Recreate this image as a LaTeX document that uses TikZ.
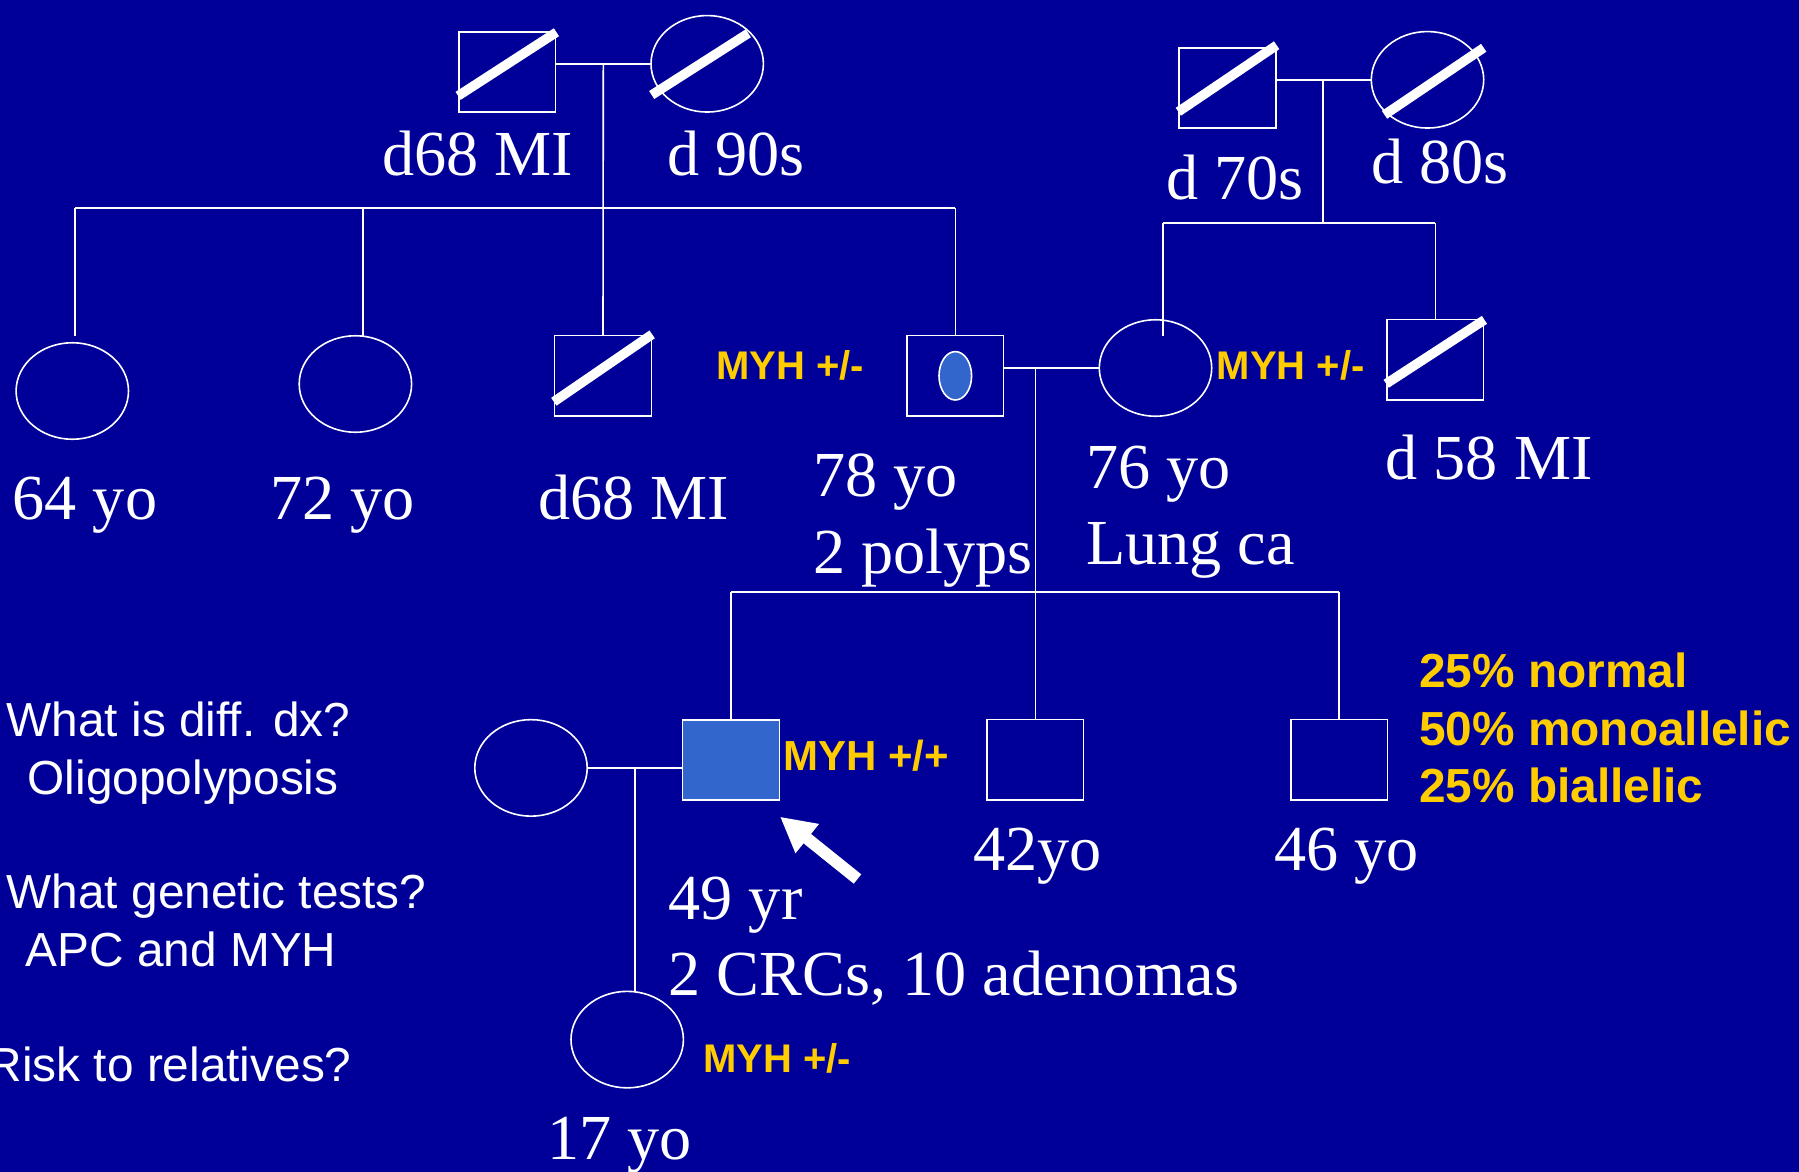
\documentclass[tikz,border=0pt]{standalone}
\usepackage{fontspec}
\setmainfont{Liberation Serif}
\setsansfont{Liberation Sans}
\usetikzlibrary{shapes.geometric,arrows.meta,calc}
\definecolor{bgblue}{RGB}{0,0,153}
\definecolor{fillblue}{RGB}{51,102,204}
\definecolor{labyellow}{RGB}{255,204,0}
\begin{document}
\begin{tikzpicture}[x=1pt,y=-1pt,
  male/.style={draw=white,line width=1.6pt,rectangle,minimum width=96.7pt,minimum height=80.3pt,inner sep=0pt},
  female/.style={draw=white,line width=1.6pt,ellipse,minimum width=112.4pt,minimum height=96.5pt,inner sep=0pt},
  rel/.style={draw=white,line width=1.6pt},
  dead/.style={draw=white,line width=9.5pt},
  serif/.style={text=white,inner sep=0pt,anchor=base west,font=\fontsize{64.2}{76}\selectfont},
  sans/.style={text=white,inner sep=0pt,anchor=base west,font=\sffamily\fontsize{47.8}{56}\selectfont},
  geno/.style={text=labyellow,inner sep=0pt,anchor=base west,font=\sffamily\bfseries\fontsize{40}{48}\selectfont},
  risk/.style={text=labyellow,inner sep=0pt,anchor=base west,font=\sffamily\bfseries\fontsize{47.8}{57}\selectfont}
]
\useasboundingbox (0,0) rectangle (1799,1172);
\fill[bgblue] (0,0) rectangle (1799,1172);

% ---- persons
\node[male] (gf1) at (507.3,71.9) {};
\node[female] (gm1) at (707.2,63.8) {};
\node[male] (gf2) at (1227.5,88) {};
\node[female] (gm2) at (1427.5,79.8) {};
\node[female] (sis64) at (72.3,391) {};
\node[female] (sis72) at (355.4,384) {};
\node[male] (bro68) at (603,375.8) {};
\node[male] (father) at (955.3,375.8) {};
\node[female] (mother) at (1155.5,368) {};
\node[male] (unc58) at (1435.3,359.8) {};
\node[female] (spouse) at (531,767.9) {};
\node[male,fill=fillblue] (proband) at (731,760) {};
\node[male] (bro42) at (1035.3,759.7) {};
\node[male] (bro46) at (1339.2,759.7) {};
\node[female] (daughter) at (627.2,1039.6) {};
\node[draw=white,line width=1.6pt,fill=fillblue,ellipse,minimum width=32.6pt,minimum height=48.4pt,inner sep=0pt] (carrier) at (father.center) {};

% ---- deceased slashes
\draw[dead] ([yshift=17pt]gf1.south west) -- ([yshift=-1.3pt]gf1.north east);
\draw[dead] ([yshift=17.2pt]gf2.south west) -- ([yshift=1.8pt]gf2.north east);
\draw[dead] ([yshift=15pt]bro68.south west) -- ([yshift=0.5pt]bro68.north east);
\draw[dead] ([yshift=17pt]unc58.south west) -- ([yshift=-1pt]unc58.north east);
\draw[dead] ([xshift=-55.5pt,yshift=-31.2pt]gm1.center) -- ([xshift=41.1pt,yshift=30.5pt]gm1.center);
\draw[dead] ([xshift=-43pt,yshift=-35pt]gm2.center) -- ([xshift=56.2pt,yshift=32pt]gm2.center);

% ---- connectors
\coordinate (d1) at (603.3,63.8);
\coordinate (s1L) at (75.2,207.7);
\coordinate (s1R) at (955.3,207.7);
\coordinate (s1b) at (362.8,207.7);
\coordinate (sis64in) at (75.2,335.6);
\coordinate (sis72in) at (362.8,335.6);
\draw[rel] (gf1.east|-gm1.west) -- (gm1.west);
\draw[rel] (d1) -- (bro68.north);
\draw[rel] (s1L) -- (s1R);
\draw[rel] (s1L) -- (sis64in);
\draw[rel] (s1b) -- (sis72in);
\draw[rel] (s1R) -- (father.north);

\coordinate (d2) at (1323.2,79.8);
\coordinate (s2L) at (1163.2,223.1);
\coordinate (s2R) at (1435.3,223.1);
\coordinate (motherin) at (1163.2,335.7);
\draw[rel] (gf2.east|-gm2.west) -- (gm2.west);
\draw[rel] (d2) -- (d2|-s2L);
\draw[rel] (s2L) -- (s2R);
\draw[rel] (s2L) -- (motherin);
\draw[rel] (s2R) -- (unc58.north);

\coordinate (d3) at (1035.3,368);
\coordinate (s3L) at (731,591.7);
\coordinate (s3R) at (1339.2,591.7);
\draw[rel] (father.east|-mother.west) -- (mother.west);
\draw[rel] (d3) -- (bro42.north);
\draw[rel] (s3L) -- (s3R);
\draw[rel] (s3L) -- (proband.north);
\draw[rel] (s3R) -- (bro46.north);

\coordinate (d4) at (635,767.9);
\draw[rel] (spouse.east) -- (spouse.east-|proband.west);
\draw[rel] (d4) -- (d4|-daughter.north);

% ---- proband arrow
\coordinate (arrtail) at (857.5,879);
\coordinate (arrtip) at (780,816.7);
\draw[white,line width=12pt,-{Triangle[width=35pt,length=35pt]}] (arrtail) -- (arrtip);

% ---- serif labels
\node[serif] (t1) at (382,175.7) {d68 MI};
\node[serif] (t2) at (667,175.7) {d 90s};
\node[serif] (t3) at (1166,199) {d 70s};
\node[serif] (t4) at (1371,183) {d 80s};
\node[serif] (t5) at (12.5,519.7) {64 yo};
\node[serif] (t6) at (270,519.7) {72 yo};
\node[serif] (t7) at (538,519.7) {d68 MI};
\node[serif] (t8) at (813,496.5) {78 yo};
\node[serif] (t9) at (813,573) {2 polyps};
\node[serif] (t10) at (1086,488) {76 yo};
\node[serif] (t11) at (1086,564.5) {Lung ca};
\node[serif] (t12) at (1385.5,479) {d 58 MI};
\node[serif] (t13) at (668.5,919.7) {49 yr};
\node[serif] (t14) at (668.5,995) {2 CRCs, 10 adenomas};
\node[serif] (t15) at (973,870.7) {42yo};
\node[serif] (t16) at (1274,870.7) {46 yo};
\node[serif] (t17) at (547,1159.5) {17 yo};

% ---- genotype labels
\node[geno] (g1) at (716,379) {MYH +/-};
\node[geno] (g2) at (1216.5,379) {MYH +/-};
\node[geno,font=\sffamily\bfseries\fontsize{42}{50}\selectfont] (g3) at (783,770.6) {MYH +/+};
\node[geno] (g4) at (703,1072.6) {MYH +/-};

% ---- risk labels
\node[risk] (r1) at (1419,687.6) {25\% normal};
\node[risk] (r2) at (1419,745) {50\% monoallelic};
\node[risk] (r3) at (1419,802.7) {25\% biallelic};

% ---- questions
\node[sans] (q1) at (6.5,736.7) {What is diff. dx?};
\node[sans] (q2) at (27.5,794) {Oligopolyposis};
\node[sans] (q3) at (6.5,908.3) {What genetic tests?};
\node[sans] (q4) at (25.5,966.7) {APC and MYH};
\node[sans] (q5) at (-12.5,1081.7) {Risk to relatives?};
\end{tikzpicture}
\end{document}
